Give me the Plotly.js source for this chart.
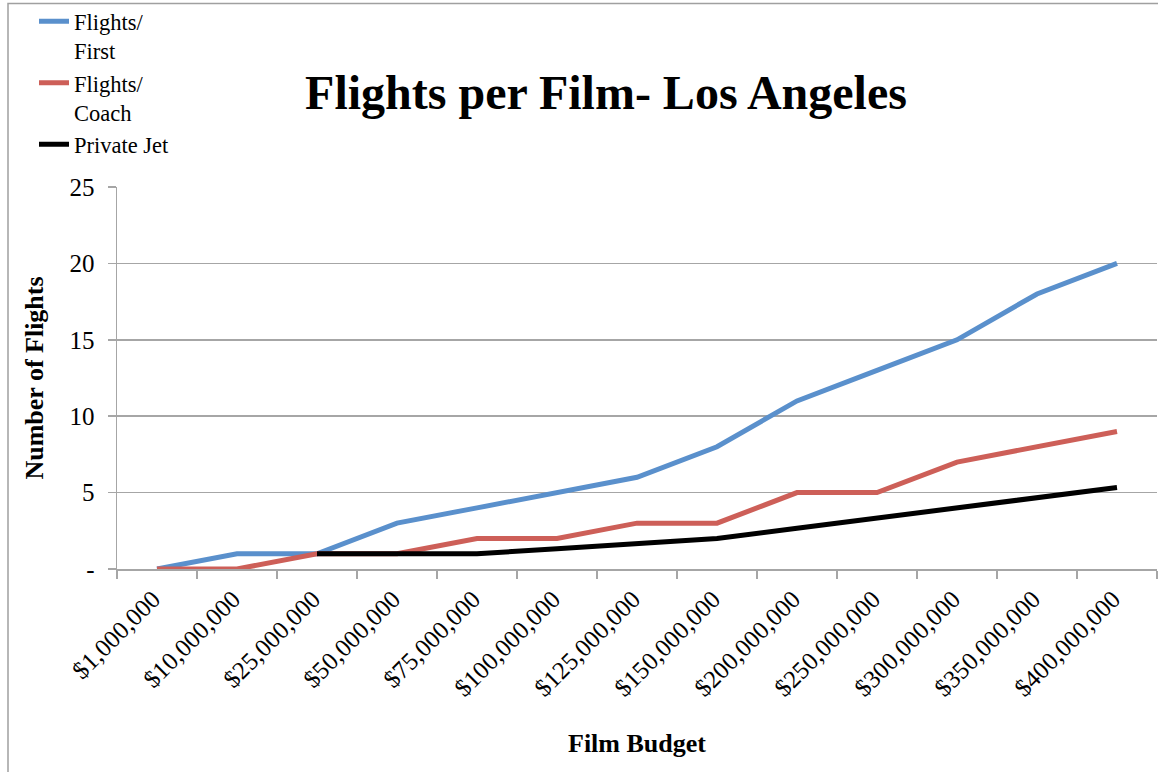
<!DOCTYPE html>
<html>
<head>
<meta charset="utf-8">
<script src="https://cdn.plot.ly/plotly-3.0.1.min.js"></script>
<style>
html,body{margin:0;padding:0;background:#fff;}
#chart{width:1158px;height:772px;}
</style>
</head>
<body>
<div id="chart"></div>
<script>
const budgets = ["$1,000,000","$10,000,000","$25,000,000","$50,000,000","$75,000,000","$100,000,000","$125,000,000","$150,000,000","$200,000,000","$250,000,000","$300,000,000","$350,000,000","$400,000,000"];
const flightsFirst = [0,1,1,3,4,5,6,8,11,13,15,18,20];
const flightsCoach = [0,0,1,1,2,2,3,3,5,5,7,8,9];
const privateJet = [null,null,1,1,1,1.33,1.67,2,2.67,3.33,4,4.67,5.33];
const seriesNames = ["Flights/<br>First","Flights/<br>Coach","Private Jet"];
const yTickVals = [0,5,10,15,20,25];
const yTickText = ["-","5","10","15","20","25"];

const FONT = "'Liberation Serif', 'Times New Roman', serif";
const colors = ["#5a90cc","#cd5f58","#000000"];
const data = [flightsFirst, flightsCoach, privateJet].map((ys,i)=>({
  type:"scatter", mode:"lines", x:budgets, y:ys, name:seriesNames[i],
  line:{color:colors[i], width:5}, connectgaps:false
}));

const layout = {
  width:1158, height:772,
  margin:{l:117, r:1, t:186, b:203},
  paper_bgcolor:"#fff", plot_bgcolor:"#fff",
  font:{family:FONT, color:"#000"},
  title:{text:"<b>Flights per Film- Los Angeles</b>", font:{family:FONT, size:48, color:"#000"},
         x:606/1158, xanchor:"center", y:1-92/772, yanchor:"middle", xref:"container", yref:"container"},
  showlegend:true,
  legend:{x:(34-117)/1040, xanchor:"left", y:1.485, yanchor:"top", font:{family:FONT, size:22.5, color:"#000"},
          bgcolor:"rgba(0,0,0,0)", valign:"top", tracegroupgap:0, itemwidth:30},
  xaxis:{type:"category", tickson:"boundaries", ticks:"outside", ticklen:8, tickcolor:"#a6a6a6", tickwidth:1.5,
         showline:true, linecolor:"#a6a6a6", linewidth:1.5, showgrid:false, tickangle:-45,
         ticklabelstandoff:4, ticklabelshift:-4,
         tickfont:{family:FONT, size:25, color:"#000"},
         title:{text:"<b>Film Budget</b>", font:{family:FONT, size:26, color:"#000"}, standoff:33},
         range:[-0.5,12.5], fixedrange:true},
  yaxis:{range:[0,25], tickvals:yTickVals, ticktext:yTickText, ticks:"outside", ticklen:8, tickcolor:"#a6a6a6", tickwidth:1.5,
         ticklabelstandoff:8,
         showline:true, linecolor:"#a6a6a6", linewidth:1.5, showgrid:true, gridcolor:"#a6a6a6", gridwidth:1.5,
         zeroline:false, tickfont:{family:FONT, size:25, color:"#000"},
         title:{text:"<b>Number of Flights</b>", font:{family:FONT, size:26, color:"#000"}, standoff:18},
         fixedrange:true},
  shapes:[{type:"rect", xref:"paper", yref:"paper", x0:(8-117)/1040, x1:1.2, y0:-1, y1:(569-2)/383,
           line:{color:"#a0a0a0", width:1.5}, fillcolor:"rgba(0,0,0,0)", layer:"below"}]
};
Plotly.newPlot("chart", data, layout, {staticPlot:true, displayModeBar:false});
</script>
</body>
</html>
